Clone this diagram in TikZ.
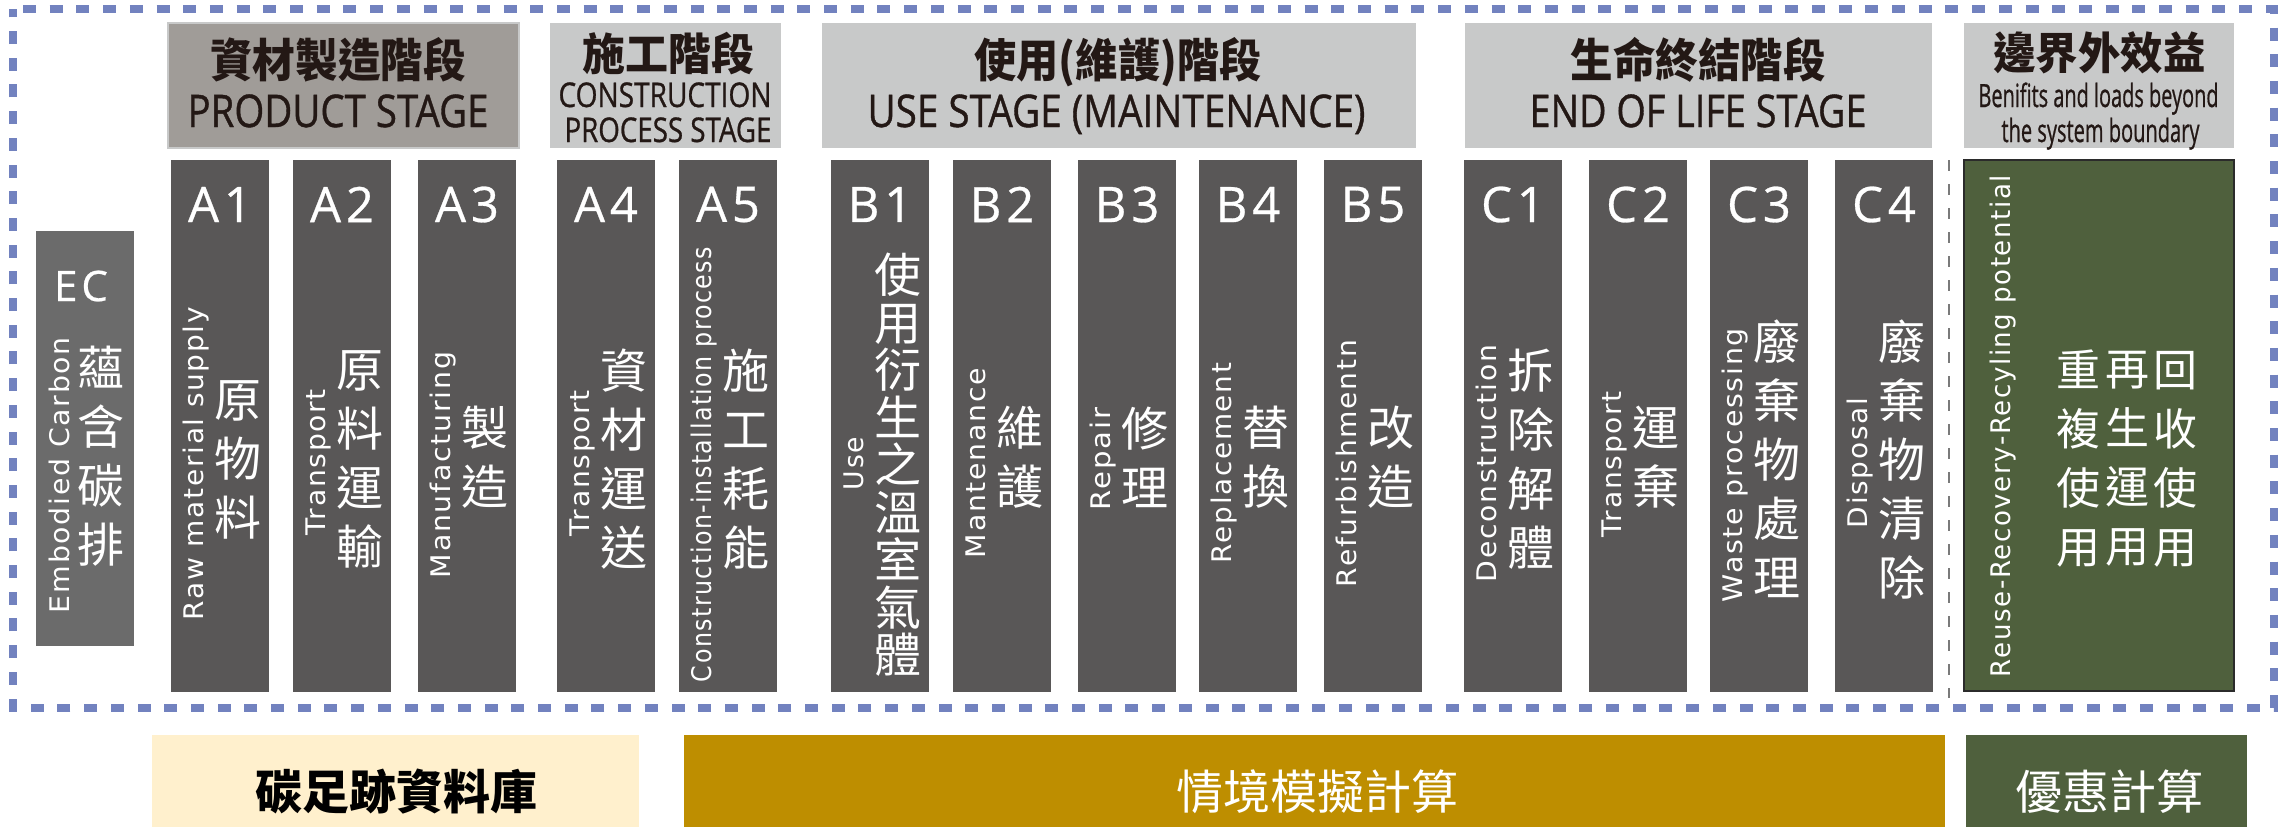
\documentclass[tikz,border=0pt]{standalone}
\usepackage{fontspec}
\usepackage{graphicx}
\setmainfont{Open Sans}
\newfontfamily\cjk{Noto Sans CJK TC}
\newfontfamily\dvs{DejaVu Sans}[LetterSpace=6]
\newfontfamily\lblf{Open Sans}[LetterSpace=10,FakeBold=0.6]
\newfontfamily\hdrf{Open Sans}[FakeBold=0.9]
\definecolor{boxgray}{HTML}{595757}
\definecolor{ecgray}{HTML}{6B6B6B}
\definecolor{prodgray}{HTML}{A09C98}
\definecolor{hdrgray}{HTML}{C8C9C9}
\definecolor{bgreen}{HTML}{4F603D}
\definecolor{greenedge}{HTML}{2B2B2B}
\definecolor{gold}{HTML}{BE8E00}
\definecolor{pale}{HTML}{FFF0CD}
\definecolor{framecol}{HTML}{7282BF}
\definecolor{ink}{HTML}{231815}
\definecolor{sepgray}{HTML}{7A7A7A}
\tikzset{
 stagebox/.style={fill=boxgray, inner sep=0, outer sep=0, anchor=north west, minimum width=98pt, minimum height=532pt},
 lbl/.style={text=white, inner sep=0, font=\lblf\fontsize{49}{49}\selectfont},
 engl/.style={text=white, inner sep=0, rotate=90, font=\dvs\fontsize{27}{27}\selectfont},
 zh/.style={text=white, inner sep=0, align=center, font=\cjk\fontsize{47}{59}\selectfont},
 zhtight/.style={zh, font=\cjk\fontsize{47}{47.5}\selectfont},
 zhg/.style={zh, font=\cjk\fontsize{44}{59}\selectfont},
 hdr/.style={inner sep=0, outer sep=0, anchor=north west, minimum height=125pt},
 hzh/.style={text=ink, inner sep=0, anchor=base, font=\cjk\bfseries\fontsize{46}{46}\selectfont},
 hzhs/.style={hzh, font=\cjk\bfseries\fontsize{44}{44}\selectfont},
 hen/.style={text=ink, inner sep=0, anchor=base, font=\hdrf\fontsize{45}{45}\selectfont},
 hens/.style={hen, font=\hdrf\fontsize{34}{34}\selectfont},
 henb/.style={hen, font=\hdrf\fontsize{32}{32}\selectfont},
 bottombox/.style={inner sep=0, outer sep=0, anchor=north west, minimum height=92pt},
 bottomtext/.style={inner sep=0, anchor=base, font=\cjk\fontsize{47}{47}\selectfont},
 frameline/.style={draw=framecol, line width=8pt, dash pattern=on 13pt off 13.7pt, dash phase=16.7pt},
 sepline/.style={draw=sepgray, line width=2.5pt, dash pattern=on 11pt off 13pt}
}
% #1 name, #2 left, #3 label, #4 eng length, #5 eng text, #6 zh lines, #7 eng centre y, #8 zh centre y, #9 zh style
\newcommand\stg[9]{%
  \node[stagebox] (#1) at (#2,160) {};
  \node[lbl] (#1-lab) at ({#2+49},204.5) {#3};
  \node[engl] (#1-en) at ({#2+25},#7) {\resizebox{#4pt}{\height}{\vphantom{lg}#5}};
  \node[#9] (#1-zh) at ({#2+67},#8) {#6};
}
\begin{document}
\begin{tikzpicture}[x=1pt,y=-1pt]
\fill[white] (0,0) rectangle (2280,827);
\useasboundingbox (0,0) rectangle (2280,827);

% outer dashed frame
\coordinate (fTL) at (13,9);
\coordinate (fTR) at (2274,9);
\coordinate (fBR) at (2274,707.5);
\coordinate (fBL) at (13,707.5);
\draw[frameline] (fTL) -- (fTR) -- (fBR) -- (fBL) -- cycle;

% headers
\node[hdr, fill=prodgray, draw=hdrgray, line width=2pt, minimum width=351pt] (Hp) at (168,23) {};
\node[hzh] (Hp-zh) at (338,77) {\resizebox{256pt}{\height}{資材製造階段}};
\node[hen] (Hp-en) at (338,127) {\resizebox{301pt}{\height}{PRODUCT STAGE}};

\node[hdr, fill=hdrgray, minimum width=231pt] (Hc) at (550,23) {};
\node[hzhs] (Hc-zh) at (668,70) {\resizebox{172pt}{\height}{施工階段}};
\node[hens] (Hc-en1) at (665,107) {\resizebox{213pt}{\height}{CONSTRUCTION}};
\node[hens] (Hc-en2) at (668,142) {\resizebox{207pt}{\height}{PROCESS STAGE}};

\node[hdr, fill=hdrgray, minimum width=594pt] (Hu) at (822,23) {};
\node[hzh] (Hu-zh) at (1118,77) {\resizebox{287pt}{\height}{使用(維護)階段}};
\node[hen] (Hu-en) at (1116.5,127) {\resizebox{498pt}{\height}{USE STAGE (MAINTENANCE)}};

\node[hdr, fill=hdrgray, minimum width=467pt] (He) at (1465,23) {};
\node[hzh] (He-zh) at (1698,77) {\resizebox{255pt}{\height}{生命終結階段}};
\node[hen] (He-en) at (1698,127) {\resizebox{337pt}{\height}{END OF LIFE STAGE}};

\node[hdr, fill=hdrgray, minimum width=270pt] (Hb) at (1964,23) {};
\node[hzhs] (Hb-zh) at (2099.5,69) {\resizebox{212pt}{\height}{邊界外效益}};
\node[henb] (Hb-en1) at (2098.5,107) {\resizebox{240pt}{\height}{Benifits and loads beyond}};
\node[henb] (Hb-en2) at (2100.5,142) {\resizebox{198pt}{\height}{the system boundary}};

% EC box
\node[fill=ecgray, inner sep=0, outer sep=0, anchor=north west, minimum width=98pt, minimum height=415pt] (EC) at (36,231) {};
\node[lbl, font=\lblf\fontsize{42}{42}\selectfont] (EC-lab) at (81,286) {E\kern4pt C};
\node[engl] (EC-en) at (62,475) {\resizebox{276pt}{\height}{\vphantom{lg}Embodied Carbon}};
\node[zh] (EC-zh) at (101,456) {蘊\\含\\碳\\排};

% stage boxes
\stg{A1}{171}{A1}{313}{Raw material supply}{原\\物\\料}{463.5}{460}{zh}
\stg{A2}{293}{A2}{146}{Transport}{原\\料\\運\\輸}{462}{459}{zh}
\stg{A3}{418}{A3}{226}{Manufacturing}{製\\造}{465}{457.5}{zh}
\stg{A4}{557}{A4}{146}{Transport}{資\\材\\運\\送}{463}{459}{zh}
\stg{A5}{679}{A5}{435}{Construction-installation process}{施\\工\\耗\\能}{464.5}{459}{zh}
\stg{B1}{831}{B1}{53}{Use}{使\\用\\衍\\生\\之\\溫\\室\\氣\\體}{463.5}{465}{zhtight}
\stg{B2}{953}{B2}{190}{Mantenance}{維\\護}{463}{457.5}{zh}
\stg{B3}{1078}{B3}{102}{Repair}{修\\理}{459}{457.5}{zh}
\stg{B4}{1199}{B4}{200}{Replacement}{替\\換}{463}{457.5}{zh}
\stg{B5}{1324}{B5}{247}{Refurbishmentn}{改\\造}{463.5}{457.5}{zh}
\stg{C1}{1464}{C1}{237}{Deconstruction}{拆\\除\\解\\體}{463.5}{459}{zh}
\stg{C2}{1589}{C2}{146}{Transport}{運\\棄}{464}{457.5}{zh}
\stg{C3}{1710}{C3}{274}{Waste processing}{廢\\棄\\物\\處\\理}{465}{459}{zh}
\stg{C4}{1835}{C4}{130}{Disposal}{廢\\棄\\物\\清\\除}{463}{459}{zh}

% separator
\coordinate (sT) at (1949,160);
\coordinate (sB) at (1949,698);
\draw[sepline] (sT) -- (sB);

% green D box
\node[fill=bgreen, draw=greenedge, line width=2.5pt, inner sep=0, outer sep=0, anchor=north west, minimum width=270pt, minimum height=531pt] (D) at (1964,160) {};
\node[engl] (D-en) at (2003,426) {\resizebox{502pt}{\height}{\vphantom{lg}Reuse-Recovery-Recyling potential}};
\node[zhg] (D-z1) at (2078,459) {重\\複\\使\\用};
\node[zhg] (D-z2) at (2127,459) {再\\生\\運\\用};
\node[zhg] (D-z3) at (2175,459) {回\\收\\使\\用};

% bottom row
\node[bottombox, fill=pale, minimum width=487pt] (DB) at (152,735) {};
\node[bottomtext, text=black, font=\cjk\bfseries\fontsize{47}{47}\selectfont] (DB-t) at (396.5,809) {碳足跡資料庫};
\node[bottombox, fill=gold, minimum width=1261pt] (SIM) at (684,735) {};
\node[bottomtext, text=white] (SIM-t) at (1317,809) {情境模擬計算};
\node[bottombox, fill=bgreen, minimum width=281pt] (DIS) at (1966,735) {};
\node[bottomtext, text=white] (DIS-t) at (2109.5,809) {優惠計算};
\end{tikzpicture}
\end{document}
